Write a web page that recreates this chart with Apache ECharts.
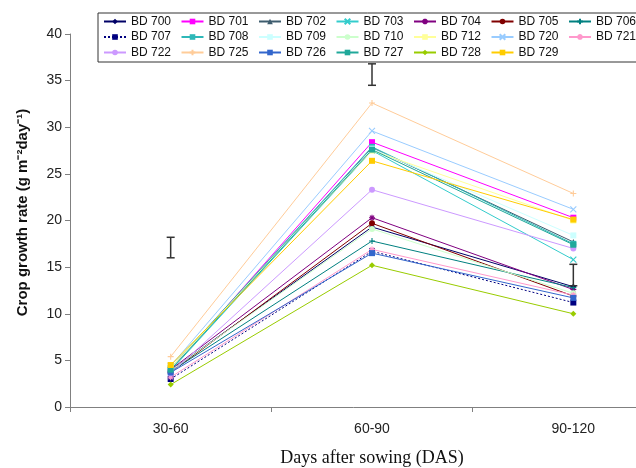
<!DOCTYPE html>
<html><head><meta charset="utf-8">
<script src="https://cdn.jsdelivr.net/npm/echarts@6/dist/echarts.min.js"></script>
<style>html,body{margin:0;padding:0;background:#fff}#c{width:636px;height:468px}</style>
</head><body><div id="c"></div>
<script>
// ---- data ----
const categories = ['30-60', '60-90', '90-120'];
const seriesNames = ['BD 700','BD 701','BD 702','BD 703','BD 704','BD 705','BD 706',
                     'BD 707','BD 708','BD 709','BD 710','BD 712','BD 720','BD 721',
                     'BD 722','BD 725','BD 726','BD 727','BD 728','BD 729'];
const bd700 = [3.9, 19.3, 12.9];
const bd701 = [4.0, 28.4, 20.3];
const bd702 = [4.1, 27.8, 17.7];
const bd703 = [3.9, 27.5, 15.8];
const bd704 = [4.0, 20.3, 12.6];
const bd705 = [3.7, 19.7, 11.9];
const bd706 = [3.8, 17.8, 12.8];
const bd707 = [3.0, 16.7, 11.2];
const bd708 = [4.2, 27.9, 17.5];
const bd709 = [4.1, 27.7, 18.4];
const bd710 = [3.9, 19.1, 12.2];
const bd712 = [4.2, 27.5, 20.0];
const bd720 = [4.4, 29.6, 21.2];
const bd721 = [3.2, 16.9, 12.0];
const bd722 = [3.6, 23.3, 17.0];
const bd725 = [5.4, 32.6, 22.9];
const bd726 = [3.7, 16.5, 11.7];
const bd727 = [4.0, 27.6, 17.4];
const bd728 = [2.4, 15.2, 10.0];
const bd729 = [4.5, 26.4, 20.1];
const seriesValues = [bd700,bd701,bd702,bd703,bd704,bd705,bd706,bd707,bd708,bd709,
                      bd710,bd712,bd720,bd721,bd722,bd725,bd726,bd727,bd728,bd729];
// error bars (LSD)
const errLow  = [16.0, 34.5, 13.0];
const errHigh = [18.2, 36.8, 15.3];
const yTicks = [0, 5, 10, 15, 20, 25, 30, 35, 40];

// ---- styles ----
const P_X = 'path://M0,0L10,10M10,0L0,10';
const P_PLUS = 'path://M5,0L5,10M0,5L10,5';
const P_AST = 'path://M5,0L5,10M0,5L10,5M1.5,1.5L8.5,8.5M8.5,1.5L1.5,8.5';
const P_DASH = 'path://M0,4L10,4L10,6L0,6Z';
const styles = [
  {c:'#000066', s:'diamond'},
  {c:'#FF00FF', s:'rect'},
  {c:'#3D5C6E', s:'triangle'},
  {c:'#33CCCC', s:P_X, stroke:true},
  {c:'#800080', s:P_AST, stroke:true},
  {c:'#800000', s:'circle'},
  {c:'#008080', s:P_PLUS, stroke:true},
  {c:'#000080', s:P_DASH, dash:[2,2]},
  {c:'#2EB8B8', s:P_DASH},
  {c:'#CCFFFF', s:P_DASH},
  {c:'#CCFFCC', s:'circle'},
  {c:'#FFFF99', s:P_DASH},
  {c:'#99CCFF', s:P_X, stroke:true},
  {c:'#FF99CC', s:P_AST, stroke:true},
  {c:'#CC99FF', s:'circle'},
  {c:'#FFCC99', s:P_PLUS, stroke:true},
  {c:'#3366CC', s:P_DASH},
  {c:'#20A89A', s:P_DASH},
  {c:'#99CC00', s:'diamond'},
  {c:'#FFCC00', s:'rect'}
];

const series = seriesNames.map((n, i) => {
  const st = styles[i];
  return {
    name: n, type: 'line', data: seriesValues[i],
    symbol: st.s, symbolSize: 6,
    lineStyle: {color: st.c, width: 1, type: st.dash || 'solid'},
    itemStyle: {color: st.c, borderColor: st.c, borderWidth: st.stroke ? 1.1 : 0},
    emphasis: {disabled: true},
    animation: false
  };
});

series.push({
  name: 'LSD', type: 'custom', animation: false, z: 10,
  data: categories.map((c, i) => [i, errLow[i], errHigh[i]]),
  renderItem: function (params, api) {
    const lo = api.coord([api.value(0), api.value(1)]);
    const hi = api.coord([api.value(0), api.value(2)]);
    const w = 4;
    const st = {stroke: '#333', lineWidth: 1.5};
    return {type: 'group', children: [
      {type: 'line', shape: {x1: lo[0], y1: lo[1], x2: hi[0], y2: hi[1]}, style: st},
      {type: 'line', shape: {x1: lo[0]-w, y1: lo[1], x2: lo[0]+w, y2: lo[1]}, style: st},
      {type: 'line', shape: {x1: hi[0]-w, y1: hi[1], x2: hi[0]+w, y2: hi[1]}, style: st}
    ]};
  }
});

const chart = echarts.init(document.getElementById('c'), null, {renderer: 'canvas'});
chart.setOption({
  backgroundColor: '#fff',
  animation: false,
  grid: {left: 70, right: -38, top: 34, bottom: 61, containLabel: false, outerBoundsMode: 'none'},
  legend: {
    data: seriesNames,
    left: 98, top: 13, width: 560,
    orient: 'horizontal',
    itemWidth: 22, itemHeight: 7, itemGap: 2.5,
    padding: [2, 5, 3, 5],
    borderColor: '#333', borderWidth: 1,
    textStyle: {fontFamily: 'Liberation Sans, Arial, sans-serif', fontSize: 12, color: '#111', width: 47, lineHeight: 13},
    selectedMode: false
  },
  xAxis: {
    type: 'category', data: categories, boundaryGap: true,
    axisLine: {lineStyle: {color: '#808080', width: 1}},
    axisTick: {show: true, inside: false, length: 5, lineStyle: {color: '#808080'}},
    axisLabel: {fontFamily: 'Liberation Sans, Arial, sans-serif', fontSize: 14, color: '#222', margin: 15},
    splitLine: {show: false},
    name: 'Days after sowing (DAS)', nameLocation: 'middle', nameGap: 42,
    nameTextStyle: {fontFamily: 'Liberation Serif, Times New Roman, serif', fontSize: 18, color: '#111'}
  },
  yAxis: {
    type: 'value', min: 0, max: 40, interval: 5,
    axisLine: {show: true, lineStyle: {color: '#808080', width: 1}},
    axisTick: {show: true, inside: false, length: 5, lineStyle: {color: '#808080'}},
    axisLabel: {fontFamily: 'Liberation Sans, Arial, sans-serif', fontSize: 14, color: '#222', margin: 8,
      formatter: v => yTicks.indexOf(v) >= 0 ? String(v) : ''},
    splitLine: {show: false},
    name: 'Crop growth rate (g m\u207B\u00B2day\u207B\u00B9)', nameLocation: 'middle', nameGap: 40, nameRotate: 90,
    nameTextStyle: {fontFamily: 'Liberation Sans, Arial, sans-serif', fontSize: 15, fontWeight: 'bold', color: '#111',
      padding: [0, 0, 0, 16]}
  },
  series: series
});
</script></body></html>
